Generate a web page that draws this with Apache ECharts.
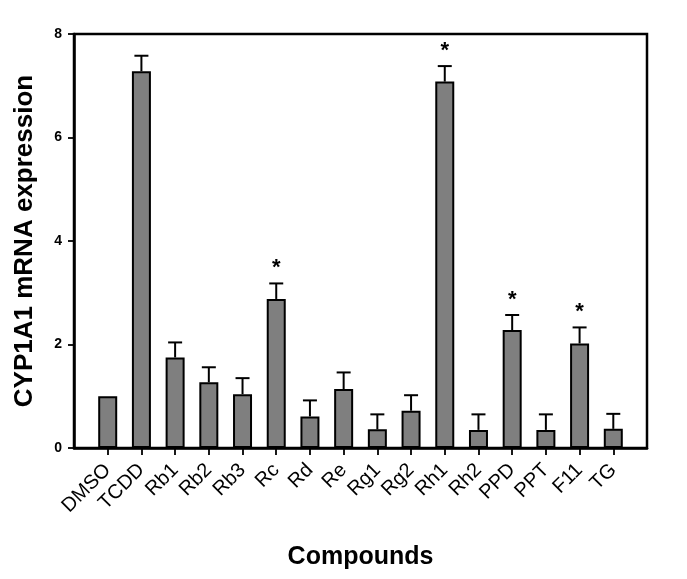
<!DOCTYPE html>
<html>
<head>
<meta charset="utf-8">
<script src="https://cdn.jsdelivr.net/npm/echarts@6/dist/echarts.min.js"></script>
<style>html,body{margin:0;padding:0;background:#fff;}#c{width:687px;height:579px;}</style>
</head>
<body>
<div id="c"></div>
<script>
var categories = ['DMSO','TCDD','Rb1','Rb2','Rb3','Rc','Rd','Re','Rg1','Rg2','Rh1','Rh2','PPD','PPT','F11','TG'];
var values = [1.0, 7.28, 1.75, 1.27, 1.04, 2.88, 0.61, 1.14, 0.36, 0.72, 7.08, 0.35, 2.28, 0.35, 2.02, 0.37];
var errors = [0, 0.3, 0.29, 0.29, 0.31, 0.3, 0.31, 0.32, 0.29, 0.3, 0.3, 0.3, 0.29, 0.3, 0.31, 0.29];
var significant = [0,0,0,0,0,1,0,0,0,0,1,0,1,0,1,0];
var yTicks = [0, 2, 4, 6, 8];

var idx = categories.map(function(_, i){ return i; });
var barData = values.map(function(v, i){ return [i, v]; });
var errData = values.map(function(v, i){ return [i, v, errors[i], significant[i]]; });

var chart = echarts.init(document.getElementById('c'), null, {renderer: 'canvas'});
chart.setOption({
  animation: false,
  backgroundColor: '#fff',
  grid: {left: 74, right: 40, top: 34, bottom: 131, show: true, borderColor: '#000', borderWidth: 2.5, containLabel: false},
  xAxis: {
    type: 'value', min: -1, max: categories.length, interval: 1,
    splitLine: {show: false},
    axisLine: {show: true, onZero: false, lineStyle: {color: '#000', width: 2.5}},
    axisTick: {show: true, customValues: idx, length: 7, lineStyle: {color: '#000', width: 1.8}},
    axisLabel: {
      customValues: idx, rotate: 45, margin: 19,
      fontFamily: 'Liberation Sans, Arial, sans-serif', fontSize: 20, color: '#000',
      formatter: function(v){ return categories[v] || ''; }
    },
    name: 'Compounds', nameLocation: 'middle', nameGap: 97,
    nameTextStyle: {fontFamily: 'Liberation Sans, Arial, sans-serif', fontSize: 25, fontWeight: 'bold', color: '#000'}
  },
  yAxis: {
    type: 'value', min: 0, max: 8, interval: 2,
    splitLine: {show: false},
    axisLine: {show: true, onZero: false, lineStyle: {color: '#000', width: 2.5}},
    axisTick: {show: true, length: 6, lineStyle: {color: '#000', width: 1.8}},
    axisLabel: {
      fontFamily: 'Liberation Sans, Arial, sans-serif', fontSize: 14, fontWeight: 'bold', color: '#000', margin: 12,
      formatter: function(v){ return yTicks.indexOf(v) >= 0 ? String(v) : ''; }
    },
    name: 'CYP1A1 mRNA expression', nameLocation: 'middle', nameGap: 36,
    nameTextStyle: {fontFamily: 'Liberation Sans, Arial, sans-serif', fontSize: 26, fontWeight: 'bold', color: '#000'}
  },
  series: [
    {
      type: 'bar', data: barData, barWidth: 19,
      itemStyle: {color: '#7f7f7f', borderColor: '#000', borderWidth: 2}
    },
    {
      type: 'custom', data: errData, z: 1,
      renderItem: function(params, api){
        var x = api.value(0), v = api.value(1), e = api.value(2), s = api.value(3);
        var children = [];
        if (e > 0) {
          var p0 = api.coord([x, v]);
          var p1 = api.coord([x, v + e]);
          children.push({type: 'line', shape: {x1: p0[0], y1: p0[1], x2: p1[0], y2: p1[1]}, style: {stroke: '#000', lineWidth: 2}});
          children.push({type: 'line', shape: {x1: p1[0]-7, y1: p1[1], x2: p1[0]+7, y2: p1[1]}, style: {stroke: '#000', lineWidth: 2}});
          if (s) {
            children.push({type: 'text', style: {text: '*', x: p1[0], y: p1[1] - 4, align: 'center', verticalAlign: 'bottom',
              font: 'bold 22px Liberation Sans, Arial, sans-serif', fill: '#000'}});
          }
        }
        return {type: 'group', children: children};
      }
    }
  ]
});
</script>
</body>
</html>
